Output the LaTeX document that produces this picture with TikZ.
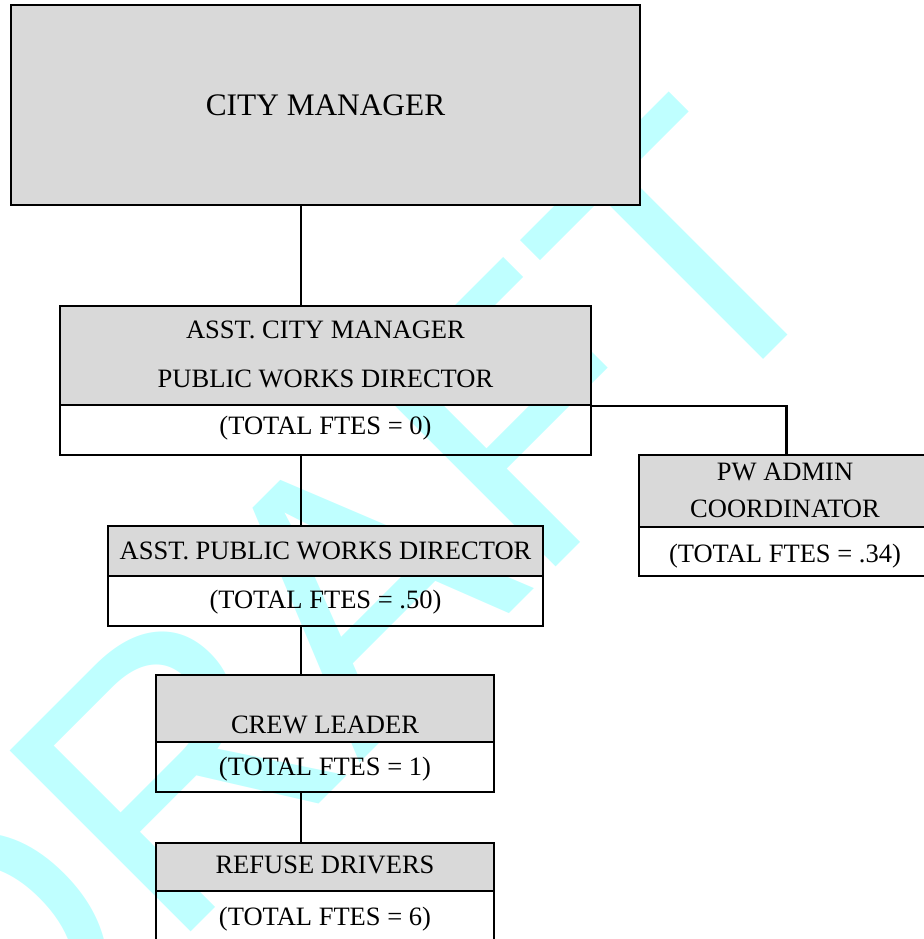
\documentclass[tikz,border=0pt]{standalone}
\usepackage{fontspec}
\setmainfont{Liberation Serif}
\newfontfamily\wmfont{Liberation Sans}
\usetikzlibrary{fit}
\definecolor{boxgray}{HTML}{D9D9D9}
\definecolor{wmcyan}{HTML}{BFFFFF}
\tikzset{
  graybox/.style={draw=black, fill=boxgray, line width=1.75pt, inner sep=0pt},
  whitebox/.style={draw=black, line width=1.75pt, inner sep=0pt},
  lbl/.style={anchor=base, inner sep=0pt, font=\fontsize{19.9}{24}\selectfont},
  biglbl/.style={anchor=base, inner sep=0pt, font=\fontsize{23.5}{28}\selectfont},
  wire/.style={draw=black, line width=1.75pt},
  wm/.style={anchor=base, inner sep=0pt, text=wmcyan, font=\wmfont\fontsize{279}{300}\selectfont}
}
\begin{document}
\begin{tikzpicture}[x=0.75pt,y=-0.75pt]
\useasboundingbox (0,0) rectangle (924,939);
\clip (0,0) rectangle (924,939);
% watermark
\node[wm, rotate=45] (draft) at (417.6,705.4) {DRAFT};
% boxes
\node[graybox, fit={(11,5) (640,205)}] (cm) {};
\node[graybox, fit={(60,306) (591,405)}] (acm) {};
\node[whitebox, fit={(60,405) (591,455)}] (acmw) {};
\node[graybox, fit={(639,455) (934,527)}] (pw) {};
\node[whitebox, fit={(639,527) (934,576)}] (pww) {};
\node[graybox, fit={(108,526) (543,576)}] (apwd) {};
\node[whitebox, fit={(108,576) (543,626)}] (apwdw) {};
\node[graybox, fit={(156,675) (494,742)}] (crew) {};
\node[whitebox, fit={(156,742) (494,792)}] (creww) {};
\node[graybox, fit={(156,843) (494,891)}] (ref) {};
\node[whitebox, fit={(156,891) (494,960)}] (refw) {};
% texts
\node[biglbl] (t1) at (325.5,115) {CITY MANAGER};
\node[lbl] (t2) at (325.5,338) {ASST. CITY MANAGER};
\node[lbl] (t3) at (325.5,387) {PUBLIC WORKS DIRECTOR};
\node[lbl] (t4) at (325.5,434) {(TOTAL FTES = 0)};
\node[lbl] (t5) at (785,480) {PW ADMIN};
\node[lbl] (t6) at (785,517) {COORDINATOR};
\node[lbl] (t7) at (785,562) {(TOTAL FTES = .34)};
\node[lbl] (t8) at (325.5,559) {ASST. PUBLIC WORKS DIRECTOR};
\node[lbl] (t9) at (325.5,608) {(TOTAL FTES = .50)};
\node[lbl] (t10) at (325,733) {CREW LEADER};
\node[lbl] (t11) at (325,775) {(TOTAL FTES = 1)};
\node[lbl] (t12) at (325,873) {REFUSE DRIVERS};
\node[lbl] (t13) at (325,925) {(TOTAL FTES = 6)};
% connectors
\coordinate (spine) at (301,0);
\draw[wire] (cm.south -| spine) -- (acm.north -| spine);
\draw[wire] (acmw.south -| spine) -- (apwd.north -| spine);
\draw[wire] (apwdw.south -| spine) -- (crew.north -| spine);
\draw[wire] (creww.south -| spine) -- (ref.north -| spine);
\draw[wire] (acm.south east) -| (pw.north);
\end{tikzpicture}
\end{document}
